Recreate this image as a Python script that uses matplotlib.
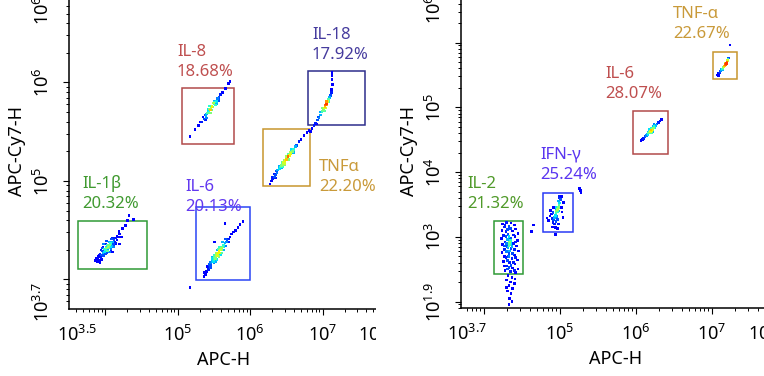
import numpy as np
import matplotlib
matplotlib.use('Agg')
import matplotlib.pyplot as plt
from matplotlib.patches import Rectangle
from matplotlib.ticker import LogLocator, NullFormatter
import matplotlib.transforms as mtransforms

plt.rcParams['font.family'] = ['Noto Sans', 'DejaVu Sans']
plt.rcParams['mathtext.fontset'] = 'custom'
plt.rcParams['mathtext.rm'] = 'Noto Sans'
plt.rcParams['mathtext.it'] = 'Noto Sans:italic'
plt.rcParams['mathtext.bf'] = 'Noto Sans:bold'

# ---------------- data (log10 units of APC-H / APC-Cy7-H) ----------------
# left plot populations
l_il8_x = [5.17,5.24,5.29,5.31,5.33,5.36,5.38,5.39,5.40,5.41,5.42,5.43,5.44,5.45,5.46,5.47,5.47,5.48,5.50,5.51,5.53,5.55,5.57,5.59,5.62,5.66,5.70,5.72,
           5.40,5.44,5.47,5.50,5.53,5.45,5.42,5.56,5.38,5.35,5.49,5.52]
l_il8_y = [5.45,5.52,5.56,5.60,5.60,5.63,5.67,5.66,5.68,5.69,5.71,5.70,5.73,5.72,5.74,5.76,5.75,5.75,5.78,5.80,5.81,5.84,5.85,5.88,5.90,5.94,5.99,6.01,
           5.64,5.76,5.72,5.81,5.78,5.69,5.73,5.82,5.62,5.65,5.79,5.77]
l_il8_d = [.12,.12,.12,.12,.15,.2,.2,.3,.3,.45,.35,.4,.5,.7,.55,.6,.65,.5,.45,.4,.35,.25,.2,.15,.12,.12,.12,.12,
           .25,.4,.45,.3,.3,.5,.35,.2,.15,.12,.55,.4]

l_il18_x = [6.83,6.85,6.88,6.90,6.91,6.93,6.95,6.97,6.99,7.00,7.01,7.02,7.03,7.03,7.04,7.05,7.06,7.07,7.08,7.09,7.11,7.12,7.12,7.13,7.125,7.125,7.125,
            7.00,7.04,7.06,7.02,6.97,7.08,6.94,7.05]
l_il18_y = [5.50,5.53,5.56,5.59,5.58,5.62,5.64,5.67,5.70,5.71,5.72,5.74,5.75,5.76,5.77,5.78,5.80,5.81,5.83,5.85,5.87,5.90,5.93,5.98,6.03,6.07,6.10,
            5.74,5.74,5.77,5.71,5.70,5.80,5.65,5.81]
l_il18_d = [.12,.12,.15,.15,.12,.2,.25,.3,.4,.45,.5,.6,.7,.65,.8,.85,.7,.6,.45,.3,.2,.15,.12,.12,.12,.12,.12,
            .5,.6,.7,.45,.3,.4,.2,.75]

l_tnf_x = [6.27,6.29,6.30,6.31,6.33,6.35,6.35,6.37,6.38,6.40,6.42,6.43,6.44,6.45,6.46,6.47,6.48,6.50,6.52,6.54,6.55,6.56,6.58,6.60,6.62,6.64,6.67,6.70,6.74,6.78,6.81,
           6.40,6.45,6.50,6.53,6.57,6.48,6.43,6.60,6.36,6.33,6.52,6.47]
l_tnf_y = [4.97,5.00,5.04,5.02,5.04,5.06,5.03,5.08,5.11,5.12,5.14,5.16,5.19,5.17,5.19,5.17,5.21,5.22,5.25,5.26,5.29,5.28,5.30,5.32,5.35,5.36,5.40,5.42,5.46,5.49,5.51,
           5.15,5.14,5.25,5.22,5.32,5.18,5.13,5.29,5.10,5.07,5.27,5.21]
l_tnf_d = [.12,.12,.15,.15,.2,.2,.15,.25,.3,.35,.4,.5,.45,.55,.6,.5,.65,.7,.8,.65,.55,.6,.5,.4,.3,.2,.15,.12,.12,.12,.12,
           .3,.4,.55,.5,.35,.6,.3,.3,.2,.15,.45,.5]

l_il1b_x = [4.04,4.06,4.02,4.05,4.03,4.00,4.08,4.07,3.99,4.01,4.10,3.97,4.04,4.06,
            3.95,3.96,4.12,4.11,3.98,4.09,4.02,3.94,3.93,4.14,4.13,4.00,4.08,
            3.90,3.91,3.89,3.92,3.95,3.88,4.16,4.18,4.20,4.15,3.97,4.10,4.22,4.19,4.24,4.28,4.31,4.39,4.33,4.20,3.86,3.93,
            3.98,4.02,4.08,4.12,3.96,4.06,4.00,4.10,3.94,4.14,4.05,4.03,3.99,4.07,4.01,4.11,3.92,4.16,3.97,4.09]
l_il1b_y = [4.33,4.35,4.32,4.32,4.35,4.30,4.36,4.33,4.28,4.33,4.38,4.27,4.30,4.38,
            4.25,4.29,4.40,4.36,4.24,4.41,4.27,4.22,4.26,4.42,4.38,4.36,4.30,
            4.20,4.23,4.18,4.19,4.20,4.21,4.44,4.43,4.46,4.36,4.33,4.28,4.43,4.49,4.52,4.55,4.60,4.61,4.65,4.36,4.19,4.17,
            4.36,4.39,4.31,4.34,4.32,4.28,4.26,4.42,4.30,4.37,4.34,4.29,4.31,4.37,4.30,4.33,4.25,4.40,4.24,4.34]
l_il1b_d = [.55,.5,.5,.45,.45,.4,.4,.35,.35,.35,.3,.3,.3,.3,
            .2,.2,.2,.2,.2,.2,.2,.15,.15,.15,.15,.15,.15,
            .12,.12,.12,.12,.12,.12,.12,.12,.12,.12,.12,.12,.12,.12,.12,.12,.12,.12,.12,.12,.12,.12,
            .25,.2,.25,.2,.2,.25,.2,.15,.15,.15,.5,.45,.4,.4,.35,.25,.12,.12,.15,.3]

l_il6_x = [5.40,5.42,5.41,5.43,5.44,5.46,5.45,5.47,5.49,5.48,
           5.50,5.51,5.52,5.53,5.54,5.55,5.56,5.57,5.58,5.59,
           5.60,5.61,5.62,5.63,5.64,5.65,5.67,5.68,5.70,5.72,
           5.74,5.77,5.80,5.83,5.86,5.90,5.38,5.36,5.37,5.55,
           5.50,5.59,5.66,5.51,5.65,5.17,
           5.47,5.52,5.56,5.60,5.63,5.58,5.50,5.54,5.66,5.45,5.70,5.62,5.57,5.53]
l_il6_y = [4.08,4.10,4.13,4.12,4.15,4.14,4.17,4.18,4.18,4.21,
           4.20,4.23,4.21,4.24,4.26,4.24,4.27,4.29,4.27,4.30,
           4.32,4.30,4.33,4.35,4.33,4.37,4.38,4.40,4.41,4.43,
           4.46,4.48,4.50,4.53,4.56,4.59,4.05,4.03,4.07,4.30,
           4.17,4.25,4.41,4.38,4.57,3.92,
           4.22,4.18,4.31,4.27,4.30,4.33,4.24,4.20,4.34,4.12,4.38,4.38,4.23,4.27]
l_il6_d = [.12,.15,.12,.15,.2,.2,.25,.3,.35,.35,
           .4,.45,.5,.55,.6,.6,.65,.65,.6,.6,
           .55,.5,.45,.4,.35,.3,.25,.2,.15,.12,
           .12,.12,.12,.12,.12,.12,.12,.12,.12,.3,
           .25,.35,.2,.12,.12,.12,
           .3,.3,.45,.45,.3,.4,.4,.35,.25,.2,.15,.3,.5,.55]

# right plot populations
r_tnf_x = [7.07,7.08,7.09,7.10,7.11,7.12,7.13,7.14,7.15,7.16,7.17,7.18,7.19,7.20,7.21,7.215,7.22,7.24,7.15,7.18]
r_tnf_y = [5.50,5.52,5.49,5.53,5.55,5.56,5.58,5.59,5.61,5.63,5.64,5.66,5.68,5.70,5.72,5.74,5.76,5.96,5.58,5.68]
r_tnf_d = [.12,.12,.12,.15,.2,.25,.3,.4,.5,.6,.7,.8,.85,.8,.6,.4,.2,.12,.3,.6]

r_il6_x = [6.07,6.09,6.10,6.12,6.14,6.15,6.16,6.17,6.17,6.18,6.19,6.20,6.20,6.21,6.22,6.22,6.23,6.24,6.25,6.26,6.28,6.30,6.32,6.34,
           6.18,6.21,6.15,6.24,6.19,6.23]
r_il6_y = [4.49,4.50,4.52,4.55,4.56,4.59,4.58,4.60,4.62,4.62,4.63,4.65,4.67,4.64,4.66,4.63,4.68,4.70,4.69,4.72,4.74,4.76,4.79,4.81,
           4.66,4.61,4.56,4.73,4.60,4.71]
r_il6_d = [.12,.12,.15,.2,.25,.3,.35,.45,.3,.5,.6,.7,.4,.65,.55,.3,.5,.4,.35,.3,.2,.15,.12,.12,
           .35,.45,.2,.25,.4,.3]

r_ifng_x = [4.97,4.98,4.96,4.99,4.95,4.97,5.00,4.98,4.94,4.93,
            4.96,4.99,4.95,5.01,5.00,4.99,4.92,4.91,4.90,4.93,
            4.95,4.97,4.98,4.89,4.88,4.87,4.90,4.94,4.97,5.02,
            5.03,5.04,5.05,5.02,4.92,4.85,4.83,4.94,5.26,5.28,
            5.27,4.65,4.63,4.91,4.96]
r_ifng_y = [3.42,3.45,3.40,3.48,3.37,3.38,3.52,3.55,3.33,3.30,
            3.46,3.40,3.43,3.58,3.60,3.62,3.26,3.22,3.28,3.20,
            3.24,3.27,3.20,3.35,3.41,3.32,3.15,3.14,3.13,3.45,
            3.38,3.30,3.53,3.62,3.45,3.25,3.29,3.04,3.75,3.68,
            3.71,3.18,3.08,3.37,3.31]
r_ifng_d = [.55,.5,.5,.45,.45,.4,.35,.3,.35,.3,
            .35,.3,.3,.2,.15,.15,.2,.15,.15,.15,
            .2,.2,.15,.12,.12,.12,.12,.12,.12,.12,
            .12,.12,.12,.12,.12,.12,.12,.12,.12,.12,
            .12,.12,.12,.2,.25]

r_il2_x = [4.25,4.30,4.36,4.40,4.27,4.33,4.42,4.24,4.29,4.38,
           4.45,4.26,4.32,4.41,4.23,4.35,4.44,4.28,4.39,4.25,
           4.31,4.43,4.27,4.36,4.46,4.24,4.33,4.40,4.29,4.37,
           4.44,4.26,4.34,4.41,4.30,4.38,4.45,4.28,4.35,4.42,
           4.32,4.37,4.30,4.35,4.40,4.33,4.38,4.31,4.36,4.34,4.37,4.33,4.30,4.41,
           4.28,4.35,4.31,4.39,4.29,4.42,4.27,4.40,4.30,4.38,4.32,4.27,4.42,4.31,4.39,4.33,4.27,4.40,4.36,4.31,
           4.33,4.35,4.31,4.34,4.36,4.32,4.34,4.30,4.37,4.33,4.34,4.33]
r_il2_y = [3.20,3.22,3.21,3.18,3.15,3.16,3.12,3.10,3.08,3.09,
           3.05,3.02,3.04,3.00,2.97,2.98,2.94,2.92,2.90,2.88,
           2.85,2.86,2.80,2.82,2.78,2.76,2.74,2.72,2.68,2.66,
           2.64,2.62,2.60,2.58,2.55,2.52,2.50,2.48,2.46,2.45,
           2.40,2.37,2.33,2.30,2.28,2.25,2.20,2.16,2.12,2.05,2.00,1.95,2.22,2.35,
           3.18,3.13,3.11,3.03,3.00,2.92,2.86,2.80,2.77,2.74,2.70,2.70,2.68,2.63,2.60,2.53,2.55,2.48,2.56,2.50,
           3.00,2.94,2.96,2.88,2.90,2.83,2.78,2.90,2.85,2.70,2.92,2.86]
r_il2_d = [.12,.15,.12,.12,.15,.2,.12,.12,.15,.12,
           .12,.15,.2,.12,.12,.2,.12,.15,.15,.12,
           .2,.12,.15,.2,.12,.12,.2,.12,.15,.15,
           .12,.12,.15,.12,.15,.12,.12,.12,.15,.12,
           .12,.12,.12,.12,.12,.12,.12,.12,.12,.12,.12,.12,.12,.12,
           .15,.2,.2,.15,.2,.15,.2,.15,.25,.2,.2,.12,.15,.2,.15,.2,.12,.15,.2,.2,
           .35,.4,.3,.45,.35,.3,.3,.25,.3,.25,.5,.45]

# gates (log10 bounds) and labels
l_gate_names = ['IL-1β', 'IL-6', 'IL-8', 'TNFα', 'IL-18']
l_gate_pcts = ['20.32%', '20.13%', '18.68%', '22.20%', '17.92%']
l_gate_x = [(3.628, 4.572), (5.252, 5.997), (5.055, 5.776), (6.172, 6.824), (6.797, 7.583)]
l_gate_y = [(4.103, 4.596), (3.994, 4.739), (5.375, 5.947), (4.949, 5.527), (5.568, 6.119)]

r_gate_names = ['IL-2', 'IFN-γ', 'IL-6', 'TNF-α']
r_gate_pcts = ['21.32%', '25.24%', '28.07%', '22.67%']
r_gate_x = [(4.138, 4.520), (4.775, 5.178), (5.967, 6.428), (7.012, 7.328)]
r_gate_y = [(2.420, 3.248), (3.078, 3.671), (4.278, 4.942), (5.432, 5.854)]

# axis tick labels
l_xtick_exp = [4, 5, 6, 7, 8]
l_xtick_lab = ['', r'$10^{5}$', r'$10^{6}$', r'$10^{7}$', '']
l_ytick_exp = [4, 5, 6, 7]
l_ytick_lab = ['', r'$10^{5}$', r'$10^{6}$', '']
l_xend_lab = [r'$10^{3.5}$', r'$10^{7.7}$']
l_yend_lab = [r'$10^{3.7}$', r'$10^{6.8}$']

r_xtick_exp = [4, 5, 6, 7, 8]
r_xtick_lab = ['', r'$10^{5}$', r'$10^{6}$', r'$10^{7}$', '']
r_ytick_exp = [2, 3, 4, 5, 6, 7]
r_ytick_lab = ['', r'$10^{3}$', r'$10^{4}$', r'$10^{5}$', '', '']
r_xend_lab = [r'$10^{3.7}$', r'$10^{7.7}$']
r_yend_lab = [r'$10^{1.9}$', r'$10^{6.6}$']

# ---------------- styling / layout ----------------
W, H = 764, 376
fig = plt.figure(figsize=(W / 100, H / 100), dpi=100)

l_gate_col = ['#2f9a35', '#2a45f5', '#b24a4a', '#c8962e', '#2e2e8c']
l_text_col = ['#409a30', '#6238f0', '#bf4f4f', '#c99a3a', '#463c9e']
r_gate_col = ['#2f9a35', '#2a3af5', '#b24a4a', '#c8962e']
r_text_col = ['#509a2a', '#5a35f0', '#bf4f4f', '#c99a3a']

# text anchors in pixels (left x, baseline of first line)
l_text_px = [(82, 188), (185, 191), (177, 56), (319, 171), (312, 39)]
r_text_px = [(467, 188), (540, 159), (605, 78), (673, 18)]
LINE = 20

TICKLEN = 4.3
PAD = 7.0
FS = 13


def px_axes(x0, x1, ytop, ybot):
    return fig.add_axes([x0 / W, 1 - ybot / H, (x1 - x0) / W, (ybot - ytop) / H])


def setup(ax, xlim, ylim, xexp, xlab, yexp, ylab, xend, yend, xendlab, yendlab):
    ax.set_xscale('log')
    ax.set_yscale('log')
    ax.set_xlim(10 ** xlim[0], 10 ** xlim[1])
    ax.set_ylim(10 ** ylim[0], 10 ** ylim[1])
    ax.set_xticks(10.0 ** np.array(xexp), xlab)
    ax.set_yticks(10.0 ** np.array(yexp), ylab, rotation=90, va='center')
    for axis in (ax.xaxis, ax.yaxis):
        axis.set_minor_locator(LogLocator(base=10, subs=np.arange(2, 10), numticks=50))
        axis.set_minor_formatter(NullFormatter())
    for s in ('top', 'right'):
        ax.spines[s].set_visible(False)
    for s in ('left', 'bottom'):
        ax.spines[s].set_linewidth(1.1)
    ax.tick_params(which='major', direction='out', length=TICKLEN, width=0.8,
                   labelsize=FS, pad=PAD, colors='black')
    ax.tick_params(which='minor', direction='out', length=2.4, width=0.7)
    ax.set_facecolor('none')
    # end labels of the axis range
    tx = mtransforms.blended_transform_factory(ax.transData, ax.transAxes) + \
        mtransforms.ScaledTranslation(0, -(TICKLEN + PAD) / 72, fig.dpi_scale_trans)
    for e, lab in zip(xend, xendlab):
        ax.text(10 ** e, 0, lab, ha='center', va='top', fontsize=FS, transform=tx)
    ty = mtransforms.blended_transform_factory(ax.transAxes, ax.transData) + \
        mtransforms.ScaledTranslation(-(TICKLEN + PAD) / 72, 0, fig.dpi_scale_trans)
    for e, lab in zip(yend, yendlab):
        ax.text(0, 10 ** e, lab, ha='right', va='center', rotation=90, fontsize=FS, transform=ty)


def dots(ax, x, y, d):
    x, y, d = np.array(x), np.array(y), np.array(d)
    o = np.argsort(d, kind='stable')
    ax.scatter(10 ** x[o], 10 ** y[o], c=d[o], cmap='jet', vmin=0, vmax=1,
               s=3.6, marker='s', linewidths=0, zorder=3)


def gates(ax, gx, gy, cols):
    for (x0, x1), (y0, y1), c in zip(gx, gy, cols):
        ax.add_patch(Rectangle((10 ** x0, 10 ** y0), 10 ** x1 - 10 ** x0, 10 ** y1 - 10 ** y0,
                               fill=False, ec=c, lw=1.1, zorder=2))


def labels(names, pcts, cols, pos):
    for n, p, c, (x, y) in zip(names, pcts, cols, pos):
        fig.text(x / W, 1 - y / H, n, color=c, fontsize=12, ha='left', va='baseline', zorder=5)
        fig.text(x / W, 1 - (y + LINE) / H, p, color=c, fontsize=12, ha='left', va='baseline', zorder=5)


# left panel
axL = px_axes(69, 420, -30, 309)
setup(axL, (3.5, 8.341), (3.7, 7.142), l_xtick_exp, l_xtick_lab, l_ytick_exp, l_ytick_lab,
      (3.61, 7.762), (3.771, 6.791), l_xend_lab, l_yend_lab)
for x, y, d in [(l_il1b_x, l_il1b_y, l_il1b_d), (l_il6_x, l_il6_y, l_il6_d),
                (l_il8_x, l_il8_y, l_il8_d), (l_tnf_x, l_tnf_y, l_tnf_d),
                (l_il18_x, l_il18_y, l_il18_d)]:
    dots(axL, x, y, d)
gates(axL, l_gate_x, l_gate_y, l_gate_col)
axL.set_xlabel('APC-H', fontsize=FS)
axL.set_ylabel('APC-Cy7-H', fontsize=FS)
axL.xaxis.label.set_va('center')
axL.yaxis.label.set_va('center')
axL.xaxis.set_label_coords((224 - 69) / 351, (309 - 360) / 339)
axL.yaxis.set_label_coords((17 - 69) / 351, (309 - 151) / 339)

# white gap between the two captures
fig.add_artist(Rectangle((376 / W, 0), (461 - 376) / W, 1, transform=fig.transFigure,
                         fc='white', ec='none', zorder=1))

# right panel
axR = px_axes(461, 800, -30, 308)
axR.set_zorder(2)
setup(axR, (3.7, 8.161), (1.9, 7.120), r_xtick_exp, r_xtick_lab, r_ytick_exp, r_ytick_lab,
      (3.779, 7.739), (1.993, 6.603), r_xend_lab, r_yend_lab)
for x, y, d in [(r_il2_x, r_il2_y, r_il2_d), (r_ifng_x, r_ifng_y, r_ifng_d),
                (r_il6_x, r_il6_y, r_il6_d), (r_tnf_x, r_tnf_y, r_tnf_d)]:
    dots(axR, x, y, d)
gates(axR, r_gate_x, r_gate_y, r_gate_col)
axR.set_xlabel('APC-H', fontsize=FS)
axR.set_ylabel('APC-Cy7-H', fontsize=FS)
axR.xaxis.label.set_va('center')
axR.yaxis.label.set_va('center')
axR.xaxis.set_label_coords((616 - 461) / 339, (308 - 359) / 338)
axR.yaxis.set_label_coords((409 - 461) / 339, (308 - 151) / 338)

labels(l_gate_names, l_gate_pcts, l_text_col, l_text_px)
labels(r_gate_names, r_gate_pcts, r_text_col, r_text_px)

fig.savefig('out.png', dpi=100, facecolor='white')
